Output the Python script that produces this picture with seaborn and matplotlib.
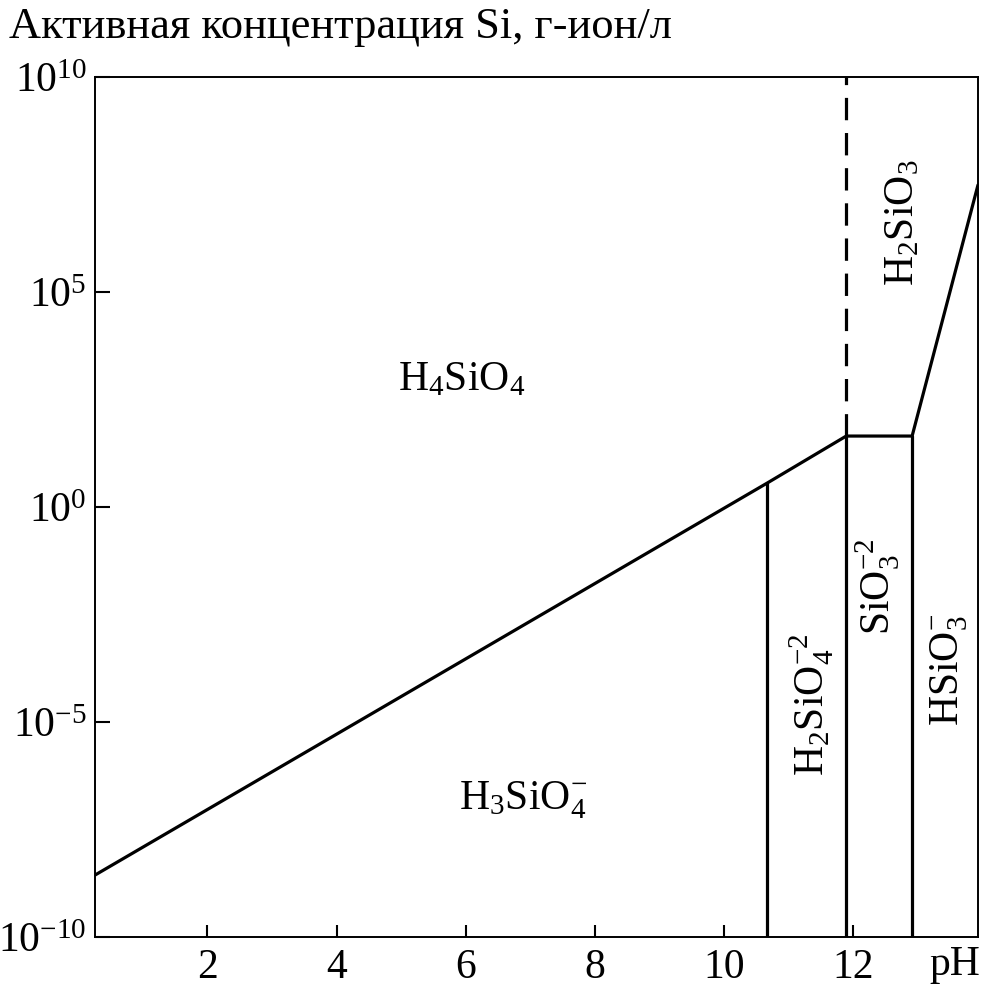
import numpy as np
import matplotlib
matplotlib.use("Agg")
import matplotlib.pyplot as plt
import seaborn as sns

# boundary between H4SiO4 (above) and the ionised forms (below), log10 of activity
ph_boundary = [0.26, 10.67, 11.89, 12.91, 13.93]
log_boundary = [-8.56, 0.56, 1.65, 1.65, 7.49]

# vertical boundaries: pH and the log10 activity where each one stops
ph_verticals = [10.67, 11.89, 12.91]
log_vertical_tops = [0.56, 1.65, 1.65]

# dashed boundary H4SiO4 / H2SiO3
ph_dashed = 11.89
log_dashed = [1.65, 10.0]

# region labels: text, pH, log10 activity, rotation
labels = ["H$_4$SiO$_4$", "H$_3$SiO$_4^{-}$", "H$_2$SiO$_4^{-2}$",
          "SiO$_3^{-2}$", "HSiO$_3^{-}$", "H$_2$SiO$_3$"]
label_ph = [5.94, 6.89, 11.36, 12.38, 13.48, 12.77]
label_log = [2.95, -6.81, -4.6, -1.86, -3.79, 6.6]
label_rot = [0, 0, 90, 90, 90, 90]

x_ticks = [2, 4, 6, 8, 10, 12]
y_exponents = [-10, -5, 0, 5, 10]

sns.set_theme(style="white")
plt.rcParams["font.family"] = ["Liberation Serif", "DejaVu Serif"]
plt.rcParams["mathtext.default"] = "regular"

fig = plt.figure(figsize=(9.82, 9.90), dpi=100)
ax = fig.add_axes([95 / 982, 1 - 937 / 990, 883 / 982, 860 / 990])

line_kw = dict(color="black", linewidth=2.3)

sns.lineplot(x=ph_boundary, y=10.0 ** np.array(log_boundary), sort=False,
             ax=ax, **line_kw)
for ph, top in zip(ph_verticals, log_vertical_tops):
    ax.plot([ph, ph], [1e-10, 10.0 ** top], **line_kw)
ax.plot([ph_dashed, ph_dashed], 10.0 ** np.array(log_dashed),
        linestyle=(0, (7, 4)), **line_kw)

for txt, ph, lg, rot in zip(labels, label_ph, label_log, label_rot):
    ax.text(ph, 10.0 ** lg, txt, rotation=rot, ha="center", va="center",
            fontsize=30, color="black")

ax.set_yscale("log")
ax.set_xlim(0.26, 13.93)
ax.set_ylim(1e-10, 1e10)
ax.set_xticks(x_ticks)
ax.set_xticklabels([str(t) for t in x_ticks])
ax.set_yticks([10.0 ** e for e in y_exponents])
ax.set_yticklabels([f"10$^{{{e}}}$".replace("-", "−") for e in y_exponents])
ax.minorticks_off()

ax.tick_params(axis="both", direction="in", colors="black", labelsize=30,
               width=1.5)
ax.tick_params(axis="x", length=9, pad=8, bottom=True)
ax.tick_params(axis="y", length=11, pad=6, left=True)

for spine in ax.spines.values():
    spine.set_visible(True)
    spine.set_color("black")
    spine.set_linewidth(1.4)

ax.set_xlabel("pH", fontsize=30, color="black")
ax.xaxis.set_label_coords(0.974, -0.032)
ax.xaxis.label.set_va("center")

ax.set_ylabel("Активная концентрация Si, г-ион/л", fontsize=32,
              color="black", rotation=0, ha="left", va="center")
ax.yaxis.set_label_coords(-0.097, 1.058)

fig.savefig("out.png", dpi=100, facecolor="white")
